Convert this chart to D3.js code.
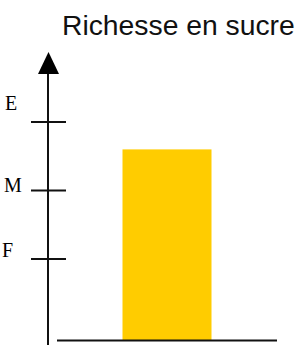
<!DOCTYPE html>
<html>
<head>
<meta charset="utf-8">
<script src="https://cdn.jsdelivr.net/npm/d3@7"></script>
<style>
  html, body { margin: 0; padding: 0; background: #fff; }
  svg { display: block; }
</style>
</head>
<body>
<div id="chart"></div>
<script>
// données
const categories = ['sucre'];
const values = [2.6];
const tickValues = [1, 2, 3];
const tickLabels = ['F', 'M', 'E'];
const title = 'Richesse en sucre';

const width = 308;
const height = 345;

const svg = d3.select('#chart')
    .append('svg')
    .attr('width', width)
    .attr('height', height);

// échelles
const y = d3.scaleLinear()
    .domain([1, 3])
    .range([259, 122]);

const x = d3.scaleBand()
    .domain(categories)
    .range([57, 277])
    .paddingInner(0)
    .paddingOuter(0.736);

const axisX = 48;
const baseY = 340;

// titre
svg.append('text')
    .attr('x', 62)
    .attr('y', 35)
    .attr('fill', '#111')
    .style('font-family', '"Liberation Sans", Arial, sans-serif')
    .style('font-size', '28.3px')
    .text(title);

// barre
svg.selectAll('.bar')
    .data(values)
    .enter()
    .append('rect')
    .attr('class', 'bar')
    .attr('x', (d, i) => x(categories[i]))
    .attr('y', d => y(d))
    .attr('width', x.bandwidth())
    .attr('height', d => baseY - y(d))
    .attr('fill', '#FFCC00');

// axe horizontal
svg.append('line')
    .attr('x1', x.range()[0]).attr('y1', baseY + 0.5)
    .attr('x2', x.range()[1]).attr('y2', baseY + 0.5)
    .attr('stroke', '#111')
    .attr('stroke-width', 2);

// axe vertical + flèche
svg.append('line')
    .attr('x1', axisX).attr('y1', 70)
    .attr('x2', axisX).attr('y2', height)
    .attr('stroke', '#111')
    .attr('stroke-width', 2);

svg.append('path')
    .attr('d', `M${axisX + 0.5},52 L${axisX - 10},74 L${axisX + 11},74 Z`)
    .attr('fill', '#000');

// graduations
const labelNudge = [-2, 1, -12];
const labelX = [2, 4, 5];

tickValues.forEach((v, i) => {
    svg.append('line')
        .attr('x1', 31).attr('y1', y(v))
        .attr('x2', 66).attr('y2', y(v))
        .attr('stroke', '#111')
        .attr('stroke-width', 2);

    svg.append('text')
        .attr('x', labelX[i])
        .attr('y', y(v) + labelNudge[i])
        .attr('fill', '#000')
        .style('font-family', '"Liberation Serif", "Times New Roman", serif')
        .style('font-size', '20px')
        .text(tickLabels[i]);
});
</script>
</body>
</html>
